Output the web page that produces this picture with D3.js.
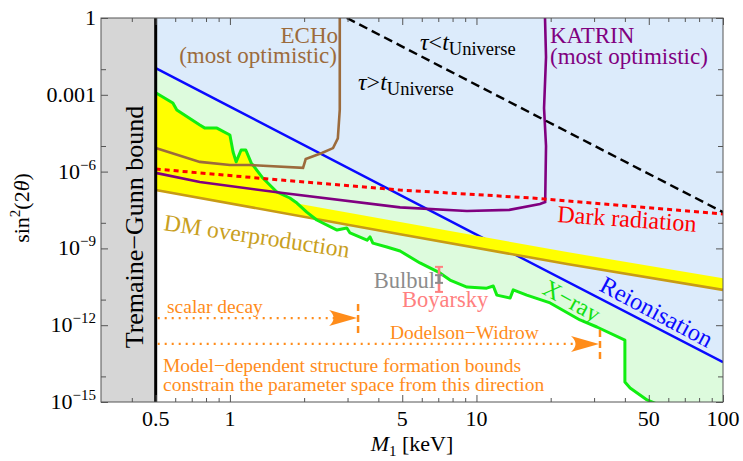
<!DOCTYPE html>
<html>
<head>
<meta charset="utf-8">
<script src="https://cdn.jsdelivr.net/npm/d3@7"></script>
<style>
  body { margin: 0; background: #fff; }
  text { font-family: "Liberation Serif", "Times New Roman", serif; }
</style>
</head>
<body>
<div id="chart"></div>
<script>
// Data: [M1 in keV, sin^2(2 theta)]
var xray = [[0.5,1.21e-3],[0.587,4.8e-4],[0.609,2.55e-4],[0.755,6.6e-5],[0.792,5.0e-5],[0.886,5.0e-5],
  [1.0,2.7e-5],[1.03,5.8e-6],[1.06,2.4e-6],[1.11,7.0e-6],[1.16,7.0e-6],[1.22,2.2e-6],[1.36,5.6e-7],
  [1.55,1.6e-7],[1.75,9.3e-8],[1.87,5.9e-8],[2.05,2.6e-8],[2.25,1.29e-8],[2.72,5.2e-9],[2.98,6.3e-9],
  [3.07,4.0e-9],[3.6,2.1e-9],[3.7,2.8e-9],[3.8,1.6e-9],[4.33,1.13e-9],[4.9,7.9e-10],[5.9,2.7e-10],
  [7.11,1.1e-10],[7.81,5.8e-11],[9.15,3.1e-11],[11.0,2.8e-11],[11.7,3.4e-11],[12.1,1.5e-11],
  [13.7,1.15e-11],[14.1,2.4e-11],[16.0,1.5e-11],[19.9,7.4e-12],[26.3,1.6e-12],[30.8,8.5e-13],
  [40.0,2.6e-13],[40.0,6.0e-15],[42.0,3.5e-15],[49.2,1.2e-15],[54,8.3e-16]];
var reion = [[0.5,1.1e-2],[1,3.44e-4],[10,3.44e-9],[100,3.6e-14]];
var overprod = [[0.5,1.9e-7],[4.9,3.6e-9],[23.3,2.45e-10],[100,2.4e-11]];
var overprodTop = [[0.5,5.6e-7],[4.9,1.07e-8],[23.3,7.2e-10],[100,6.9e-11]];
var darkRad = [[0.5,1.26e-6],[1.6,4.7e-7],[4.9,1.9e-7],[16.9,9.3e-8],[100,2.2e-8]];
var katrin = [[0.5,8.9e-7],[0.755,3.9e-7],[1.64,1.45e-7],[4.9,4.0e-8],[9.15,2.9e-8],[13.6,3.2e-8],
  [18.1,5.4e-8],[19.0,6.5e-8],[19.15,1e-5],[18.8,3e-4],[19.15,3e-2],[18.97,1]];
var echo = [[0.5,8.3e-6],[0.755,2.4e-6],[1.0,1.8e-6],[1.2,1.8e-6],[1.98,1.4e-6],[2.03,3.1e-6],
  [2.36,5.3e-6],[2.62,8.3e-6],[2.74,2.0e-5],[2.79,2.6e-4],[2.79,1]];
var lifetime = [[2.98,1],[100,2.6e-8]];
var tgBound = 0.5;
var boyarsky = [7.05, 2.0e-11, 1.9e-10];
var bulbul = [7.05, 4.5e-11, 9.0e-11];
var scalarDecay = {y: 1.9e-12, end: 3.31, bar: [3.8e-13, 6.7e-12]};
var dodelsonWidrow = {y: 1.85e-13, end: 31.7, bar: [3.7e-14, 6.5e-13]};

var xMajor = [0.5, 1, 5, 10, 50, 100];
var xMinor = [0.4, 0.6, 0.7, 0.8, 0.9, 2, 3, 4, 6, 7, 8, 9, 20, 30, 40, 60, 70, 80, 90];
var yMajor = [1, 1e-3, 1e-6, 1e-9, 1e-12, 1e-15];
var yMinor = [1e-2, 1e-5, 1e-8, 1e-11, 1e-14];
var yLabels = [["1", ""], ["0.001", ""], ["10", "\u22126"], ["10", "\u22129"], ["10", "\u221212"], ["10", "\u221215"]];

var width = 743, height = 461;
var pL = 101, pR = 723, pT = 18, pB = 402;

var svg = d3.select("#chart").append("svg")
  .attr("width", width).attr("height", height);

var x = d3.scaleLog().domain([0.3, 100]).range([pL, pR]);
var y = d3.scaleLog().domain([1e-15, 1]).range([pB, pT]);
var line = d3.line().x(function(d){ return x(d[0]); }).y(function(d){ return y(d[1]); });

svg.append("clipPath").attr("id", "plot")
  .append("rect").attr("x", pL).attr("y", pT).attr("width", pR - pL).attr("height", pB - pT);
svg.append("clipPath").attr("id", "belowXray")
  .append("path").attr("d", line(xray.concat([[0.5, 1e-17]])) + "Z");

var g = svg.append("g").attr("clip-path", "url(#plot)");

// filled regions
g.append("path").attr("d", line(xray.concat([[100, 1e-17], [100, 10], [0.5, 10]])) + "Z")
  .attr("fill", "#ddfbdd");
g.append("path").attr("d", line(reion.concat([[100, 10], [0.5, 10]])) + "Z")
  .attr("fill", "#dcebfb");
g.append("g").attr("clip-path", "url(#belowXray)")
  .append("path").attr("d", line(overprod.concat([[100, 10], [0.5, 10]])) + "Z")
  .attr("fill", "#ffff00");

g.append("path").attr("d", line(reion)).attr("fill", "none").attr("stroke", "#0a0aff").attr("stroke-width", 2.4);
g.append("path").attr("d", line(overprod.concat(overprodTop.slice().reverse())) + "Z").attr("fill", "#ffff00");
g.append("path").attr("d", line(overprod)).attr("fill", "none").attr("stroke", "#c89b14").attr("stroke-width", 2.6);
g.append("path").attr("d", line(xray)).attr("fill", "none").attr("stroke", "#11ee11").attr("stroke-width", 3)
  .attr("stroke-linejoin", "round");
g.append("path").attr("d", line(katrin)).attr("fill", "none").attr("stroke", "#800080").attr("stroke-width", 2.6);
g.append("path").attr("d", line(echo)).attr("fill", "none").attr("stroke", "#9c6b3c").attr("stroke-width", 2.6);
g.append("path").attr("d", line(darkRad)).attr("fill", "none").attr("stroke", "#ff0000").attr("stroke-width", 3)
  .attr("stroke-dasharray", "5,4");
g.append("path").attr("d", line(lifetime)).attr("fill", "none").attr("stroke", "#000").attr("stroke-width", 2.4)
  .attr("stroke-dasharray", "9,5");

// Tremaine-Gunn
g.append("rect").attr("x", pL).attr("y", pT).attr("width", x(tgBound) - pL).attr("height", pB - pT)
  .attr("fill", "#d6d6d6");
g.append("line").attr("x1", x(tgBound)).attr("x2", x(tgBound)).attr("y1", pT).attr("y2", pB)
  .attr("stroke", "#000").attr("stroke-width", 3);

// 7 keV line error bars
function errBar(d, color, w) {
  var xx = x(d[0]);
  g.append("line").attr("x1", xx).attr("x2", xx).attr("y1", y(d[1])).attr("y2", y(d[2]))
    .attr("stroke", color).attr("stroke-width", w);
  [d[1], d[2]].forEach(function(v){
    g.append("line").attr("x1", xx - 4).attr("x2", xx + 4).attr("y1", y(v)).attr("y2", y(v))
      .attr("stroke", color).attr("stroke-width", 2);
  });
}
errBar(boyarsky, "#ff8080", 2.6);
errBar(bulbul, "#8c8c8c", 3);

// orange structure formation annotations
var orange = "#ff8c1a";
[scalarDecay, dodelsonWidrow].forEach(function(a){
  var yy = y(a.y), xe = x(a.end);
  g.append("line").attr("x1", x(tgBound) + 2).attr("x2", xe - 24).attr("y1", yy).attr("y2", yy)
    .attr("stroke", orange).attr("stroke-width", 2.2).attr("stroke-dasharray", "2,5");
  g.append("path").attr("d", "M0,0 L-28,-8 Q-19,0 -28,8 Z")
    .attr("transform", "translate(" + (xe - 1) + "," + yy + ")").attr("fill", orange);
  g.append("line").attr("x1", xe).attr("x2", xe).attr("y1", y(a.bar[1])).attr("y2", y(a.bar[0]))
    .attr("stroke", orange).attr("stroke-width", 2.5).attr("stroke-dasharray", "7,4");
});

// frame and ticks
svg.append("rect").attr("x", pL).attr("y", pT).attr("width", pR - pL).attr("height", pB - pT)
  .attr("fill", "none").attr("stroke", "#555").attr("stroke-width", 1);

function ticks(axis, pos, vals, size) {
  var a = svg.append("g").attr("transform", pos).call(axis.tickValues(vals).tickSize(size).tickSizeOuter(0).tickFormat(""));
  a.select(".domain").remove();
  a.selectAll("line").attr("stroke", "#555");
  return a;
}
ticks(d3.axisBottom(x), "translate(0," + pB + ")", xMajor, -7);
ticks(d3.axisBottom(x), "translate(0," + pB + ")", xMinor, -4);
ticks(d3.axisTop(x), "translate(0," + pT + ")", xMajor, -7);
ticks(d3.axisTop(x), "translate(0," + pT + ")", xMinor, -4);
ticks(d3.axisLeft(y), "translate(" + pL + ",0)", yMajor, -7);
ticks(d3.axisLeft(y), "translate(" + pL + ",0)", yMinor, -5);
ticks(d3.axisRight(y), "translate(" + pR + ",0)", yMajor, -7);
ticks(d3.axisRight(y), "translate(" + pR + ",0)", yMinor, -5);

var xl = svg.append("g");
xMajor.forEach(function(v){
  xl.append("text").attr("x", x(v)).attr("y", pB + 24).attr("text-anchor", "middle")
    .attr("font-size", 22).text(String(v));
});
yMajor.forEach(function(v, i){
  var t = svg.append("text").attr("x", pL - 5).attr("y", y(v) + 7).attr("text-anchor", "end").attr("font-size", 22);
  t.append("tspan").text(yLabels[i][0]);
  if (yLabels[i][1]) t.append("tspan").attr("dy", -9).attr("font-size", 15).text(yLabels[i][1]);
});

// axis titles
var xt = svg.append("text").attr("x", 412).attr("y", 451).attr("text-anchor", "middle").attr("font-size", 22);
xt.append("tspan").attr("font-style", "italic").text("M");
xt.append("tspan").attr("font-size", 15).attr("dy", 5).text("1");
xt.append("tspan").attr("dy", -5).text(" [keV]");
var yt = svg.append("text").attr("transform", "translate(29,208) rotate(-90)").attr("text-anchor", "middle").attr("font-size", 22);
yt.append("tspan").text("sin");
yt.append("tspan").attr("font-size", 15).attr("dy", -9).text("2");
yt.append("tspan").attr("dy", 9).text("(2");
yt.append("tspan").attr("font-style", "italic").text("\u03b8");
yt.append("tspan").text(")");

// labels
function label(txt, px, py, color, size, rot, anchor) {
  return svg.append("text").attr("transform", "translate(" + px + "," + py + ") rotate(" + (rot || 0) + ")")
    .attr("fill", color).attr("font-size", size).attr("text-anchor", anchor || "start").text(txt);
}
label("Tremaine\u2212Gunn bound", 143, 227, "#000", 26, -90, "middle");
label("ECHo", 338, 43, "#9c6b3c", 23, 0, "end");
label("(most optimistic)", 337, 63, "#9c6b3c", 23, 0, "end");
label("KATRIN", 550, 43, "#800080", 23);
label("(most optimistic)", 550, 64, "#800080", 23);
[[420, 50, "<"], [358, 90, ">"]].forEach(function(p){
  var t = svg.append("text").attr("x", p[0]).attr("y", p[1]).attr("font-size", 24).attr("fill", "#000");
  t.append("tspan").attr("font-style", "italic").text("\u03c4");
  t.append("tspan").text(p[2]);
  t.append("tspan").attr("font-style", "italic").text("t");
  t.append("tspan").attr("font-size", 18.5).attr("dy", 5).text("Universe");
});
label("Dark radiation", 557, 222, "#ff0000", 24, 4);
label("DM overproduction", 163, 230, "#c9a01e", 23.5, 8.5);
label("X\u2212ray", 541, 293, "#11e011", 24, 29);
label("Reionisation", 598, 290, "#0a0aff", 24.5, 28);
label("Bulbul", 435, 288, "#8c8c8c", 22.5, 0, "end");
label("Boyarsky", 402, 307, "#ff8080", 22.5);
label("scalar decay", 167, 313, orange, 19.5);
label("Dodelson\u2212Widrow", 390, 339, orange, 19.5);
label("Model\u2212dependent structure formation bounds", 163, 372, orange, 19.5);
label("constrain the parameter space from this direction", 163, 391, orange, 19.5);
</script>
</body>
</html>
